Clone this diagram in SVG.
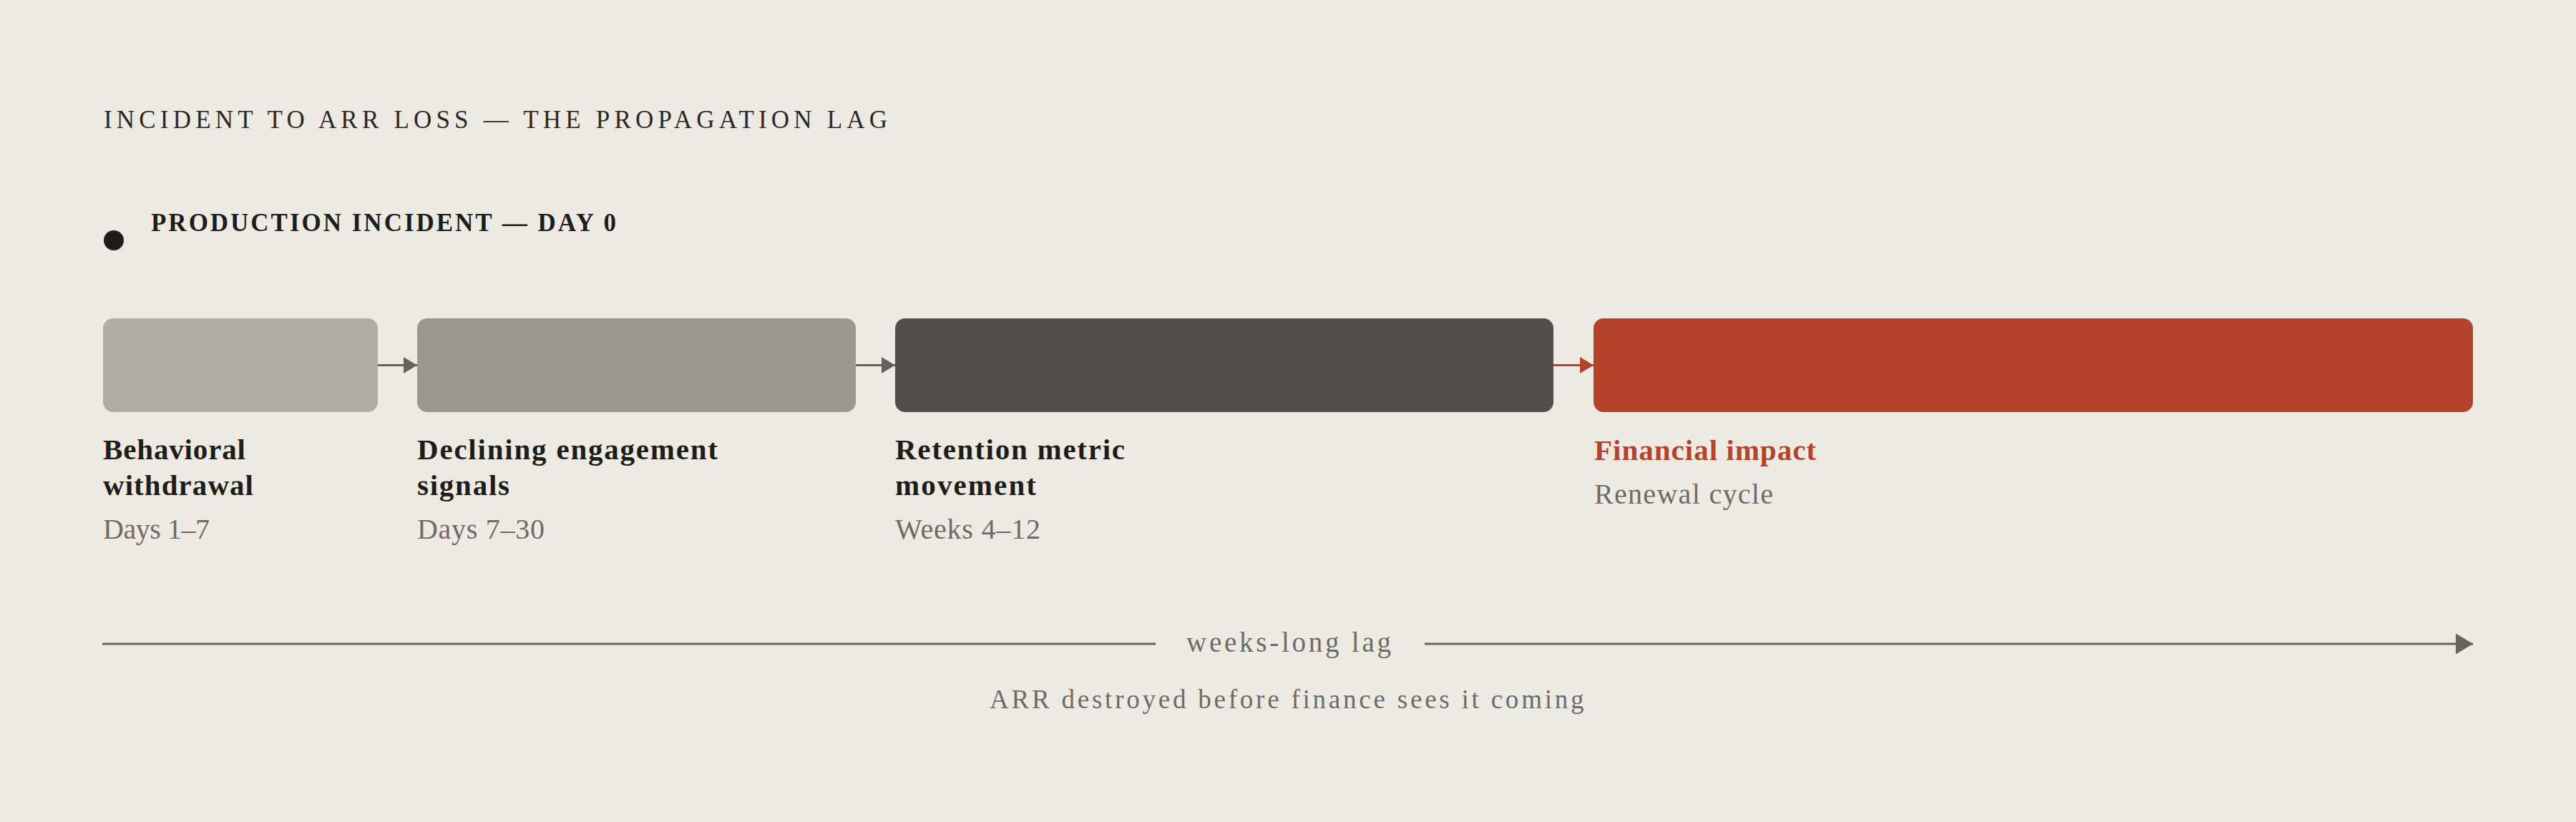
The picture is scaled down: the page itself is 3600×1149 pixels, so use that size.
<svg xmlns="http://www.w3.org/2000/svg" width="3600" height="1149" viewBox="0 0 3600 1149">
<style>
  text { font-family: "Liberation Serif", "DejaVu Serif", serif; }
  .title { font-size: 35px; fill: #2b2824; letter-spacing: 6px; }
  .sub { font-size: 35px; font-weight: bold; fill: #1f1d1a; letter-spacing: 3px; }
  .lbl { font-size: 41px; font-weight: bold; fill: #1f1d1a; }
  .lbl-red { font-size: 41px; font-weight: bold; fill: #b3432b; }
  .meta { font-size: 40px; fill: #6e6b66; }
  .lag { font-size: 39px; fill: #6e6b66; letter-spacing: 2px; }
  .note { font-size: 37px; fill: #6e6b66; letter-spacing: 1.5px; }
  .conn { stroke: #66635e; stroke-width: 3; fill: none; }
  .conn-red { stroke: #b3432b; stroke-width: 3; fill: none; }
</style>
<defs>
  <marker id="ah" markerUnits="userSpaceOnUse" markerWidth="19" markerHeight="24" refX="19" refY="12" orient="auto">
    <path d="M0,0.5 L19,12 L0,23.5 Z" fill="#66635e"/>
  </marker>
  <marker id="ah-red" markerUnits="userSpaceOnUse" markerWidth="19" markerHeight="24" refX="19" refY="12" orient="auto">
    <path d="M0,0.5 L19,12 L0,23.5 Z" fill="#b3432b"/>
  </marker>
  <marker id="ah-big" markerUnits="userSpaceOnUse" markerWidth="24" markerHeight="30" refX="24" refY="15" orient="auto">
    <path d="M0,0.5 L24,15 L0,29.5 Z" fill="#66635e"/>
  </marker>
</defs>
<rect x="0" y="0" width="3600" height="1149" fill="#edeae4"/>

<g id="header">
  <text class="title" x="145" y="179" textLength="1101" lengthAdjust="spacing">INCIDENT TO ARR LOSS — THE PROPAGATION LAG</text>
</g>

<g id="incident">
  <circle cx="159" cy="336" r="14" fill="#1f1d1a"/>
  <text class="sub" x="211" y="323" textLength="653" lengthAdjust="spacing">PRODUCTION INCIDENT — DAY 0</text>
</g>

<g id="connectors">
  <line class="conn" x1="528" y1="510.5" x2="583" y2="510.5" marker-end="url(#ah)"/>
  <line class="conn" x1="1196" y1="510.5" x2="1251" y2="510.5" marker-end="url(#ah)"/>
  <line class="conn-red" x1="2171" y1="510.5" x2="2227" y2="510.5" marker-end="url(#ah-red)"/>
</g>

<g id="node-behavioral">
  <rect x="144" y="445" width="384" height="131" rx="14" fill="#b0ada6"/>
  <text class="lbl" x="144" y="642" textLength="199" lengthAdjust="spacing">Behavioral</text>
  <text class="lbl" x="144" y="692" textLength="210" lengthAdjust="spacing">withdrawal</text>
  <text class="meta" x="144" y="753" textLength="149" lengthAdjust="spacing">Days 1–7</text>
</g>

<g id="node-engagement">
  <rect x="583" y="445" width="613" height="131" rx="14" fill="#9b9891"/>
  <text class="lbl" x="583" y="642" textLength="420" lengthAdjust="spacing">Declining engagement</text>
  <text class="lbl" x="583" y="692" textLength="129" lengthAdjust="spacing">signals</text>
  <text class="meta" x="583" y="753" textLength="178" lengthAdjust="spacing">Days 7–30</text>
</g>

<g id="node-retention">
  <rect x="1251" y="445" width="920" height="131" rx="14" fill="#524f4a"/>
  <text class="lbl" x="1251" y="642" textLength="321" lengthAdjust="spacing">Retention metric</text>
  <text class="lbl" x="1251" y="692" textLength="197" lengthAdjust="spacing">movement</text>
  <text class="meta" x="1251" y="753" textLength="203" lengthAdjust="spacing">Weeks 4–12</text>
</g>

<g id="node-financial">
  <rect x="2227" y="445" width="1229" height="131" rx="14" fill="#b3432b"/>
  <text class="lbl-red" x="2228" y="643" textLength="310" lengthAdjust="spacing">Financial impact</text>
  <text class="meta" x="2228" y="704" textLength="250" lengthAdjust="spacing">Renewal cycle</text>
</g>

<g id="lag-axis">
  <line class="conn" x1="143" y1="900" x2="1615" y2="900"/>
  <line class="conn" x1="1991" y1="900" x2="3456" y2="900" marker-end="url(#ah-big)"/>
  <text class="lag" x="1658" y="911" textLength="288" lengthAdjust="spacing">weeks-long lag</text>
  <text class="note" x="1383" y="990" textLength="832" lengthAdjust="spacing">ARR destroyed before finance sees it coming</text>
</g>
</svg>
